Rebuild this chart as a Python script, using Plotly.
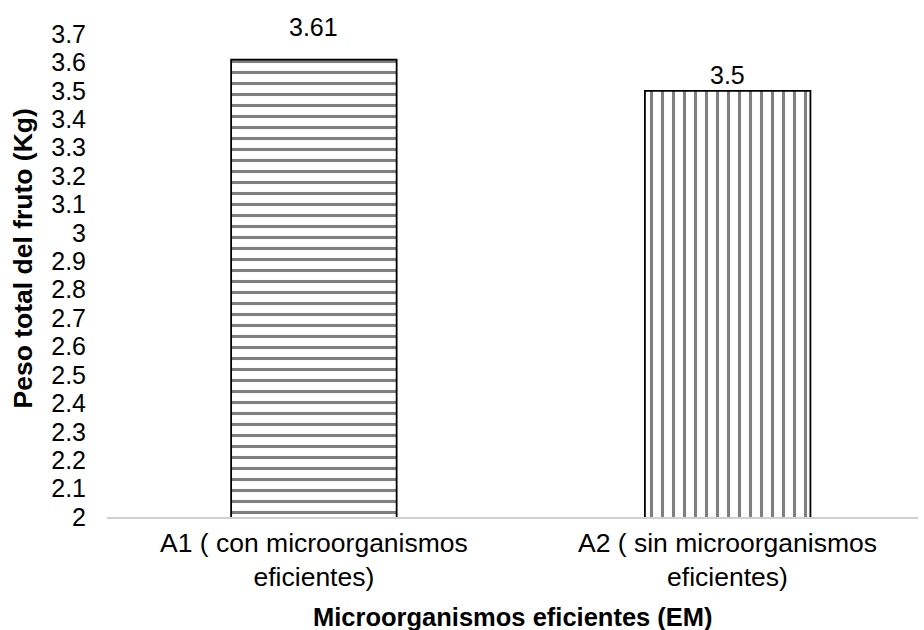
import plotly.graph_objects as go

categories = ["A1 ( con microorganismos eficientes)", "A2 ( sin microorganismos eficientes)"]
label_lines = [("A1 ( con microorganismos", "eficientes)"),
               ("A2 ( sin microorganismos", "eficientes)")]
values = [3.61, 3.5]
value_labels = ["3.61", "3.5"]
label_offsets = [17, 0]  # vertical gap (px) between each bar top and its value label
patterns = ["-", "|"]
y_ticks = [2, 2.1, 2.2, 2.3, 2.4, 2.5, 2.6, 2.7, 2.8, 2.9, 3, 3.1, 3.2, 3.3, 3.4, 3.5, 3.6, 3.7]

font_family = "Liberation Sans, Arial, sans-serif"

fig = go.Figure()
fig.add_trace(go.Bar(
    x=categories,
    y=values,
    base=0,
    marker=dict(
        color="white",
        line=dict(color="black", width=1.8),
        pattern=dict(shape=patterns, fgcolor="black", bgcolor="white",
                     size=11, solidity=0.28, fillmode="overlay"),
    ),
    width=0.4,
    showlegend=False,
))

# value labels above each bar
for cat, val, lab, off in zip(categories, values, value_labels, label_offsets):
    fig.add_annotation(x=cat, y=val, text=lab, showarrow=False,
                       yanchor="bottom", yshift=off,
                       font=dict(family=font_family, size=25, color="black"))

# two-line category labels under the axis
for cat, lines in zip(categories, label_lines):
    fig.add_annotation(x=cat, xref="x", y=0, yref="paper", text="<br>".join(lines),
                       showarrow=False, align="center",
                       yanchor="middle", yshift=-43,
                       font=dict(family=font_family, size=26.5, color="black"))

# axis titles
fig.add_annotation(x=0.5, xref="paper", y=0, yref="paper",
                   text="<b>Microorganismos eficientes (EM)</b>", showarrow=False,
                   yanchor="middle", yshift=-100,
                   font=dict(family=font_family, size=25.5, color="black"))
fig.add_annotation(x=0, xref="paper", y=0.5, yref="paper",
                   text="<b>Peso total del fruto (Kg)</b>", showarrow=False,
                   textangle=-90, xanchor="center", yanchor="middle",
                   xshift=-85, yshift=17,
                   font=dict(family=font_family, size=26.5, color="black"))

fig.update_layout(
    width=924, height=630,
    margin=dict(l=107, r=6, t=34, b=113),
    paper_bgcolor="white", plot_bgcolor="white",
    font=dict(family=font_family, color="black"),
)
fig.update_yaxes(
    range=[2, 3.7], tickvals=y_ticks, ticktext=[f"{v:g}" for v in y_ticks],
    showgrid=False, zeroline=False, showline=False,
    tickfont=dict(size=25), ticks="", ticklabelstandoff=20,
)
fig.update_xaxes(
    range=[-0.5, 1.46],
    showline=True, linecolor="#d0d0d0", linewidth=1.5, ticks="",
    showticklabels=False,
)

fig.write_html("out.html")
